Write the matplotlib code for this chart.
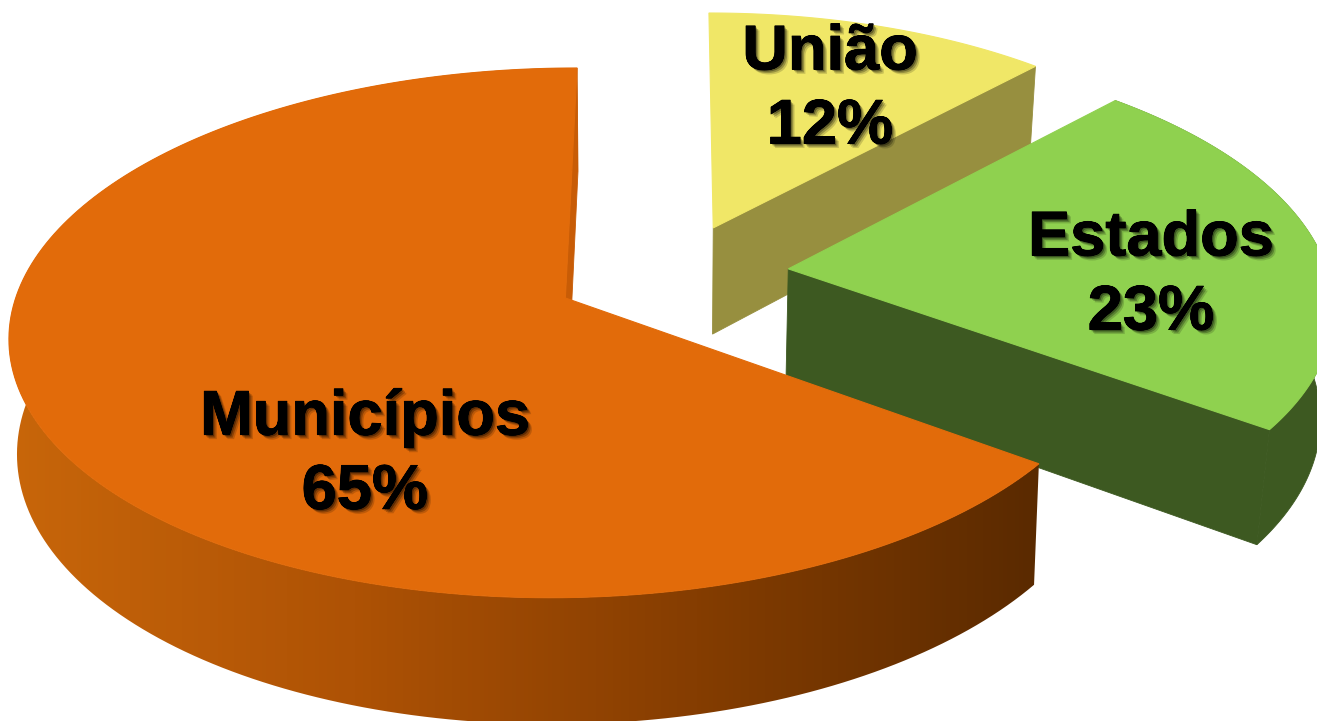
import numpy as np
import matplotlib
matplotlib.use('Agg')
import matplotlib.pyplot as plt
from matplotlib.patches import Polygon
from matplotlib.colors import LinearSegmentedColormap
import matplotlib.patheffects as pe

plt.rcParams['font.family'] = ['Liberation Sans', 'DejaVu Sans']

# dados
labels = ['União', 'Estados', 'Municípios']
values = [12, 23, 65]
explode = [0.2, 0.215, 0.2055]
top_colors = ['#F0E767', '#8FD14F', '#E26B0A']
wall_colors = ['#978F3F', '#3D5921', '#C85C06']
label_pos = [(830, 90), (1151, 276), (365, 455)]

# camera (pixels), ajustada por fatia
center_x = [675, 673, 666]
scale_x = [532, 540, 543]
drop = [110, 112, 114]
low_shrink = [0.02, 0.02, 0.012]
CY = 274
B = 254
K = 0.13


def project(x, y, i, low=False):
    w = 1 + K * y + (low_shrink[i] if low else 0)
    px = center_x[i] + scale_x[i] * x / w
    py = CY - (B * y - (drop[i] if low else 0)) / w
    return np.column_stack([px, py])


def rim(cx, cy, t0, t1, i, low=False):
    t = np.linspace(t0, t1, 200)
    return project(cx + np.sin(t), cy + np.cos(t), i, low)


fig = plt.figure(figsize=(13.17, 7.21), dpi=100)
ax = fig.add_axes([0, 0, 1, 1])

# angulos acumulados, sentido horario a partir do topo
ends = np.cumsum(values) / np.sum(values) * 2 * np.pi
starts = np.r_[0, ends[:-1]]
wall_cmap = LinearSegmentedColormap.from_list('parede', ['#C8660A', '#AE5205', '#853D01', '#5A2A00'])

for i in range(3):
    t0, t1 = starts[i], ends[i]
    mid = (t0 + t1) / 2
    cx, cy = explode[i] * np.sin(mid), explode[i] * np.cos(mid)
    apex_t = project(np.array([cx]), np.array([cy]), i)
    apex_b = project(np.array([cx]), np.array([cy]), i, True)
    top_rim = rim(cx, cy, t0, t1, i)
    low_rim = rim(cx, cy, t0, t1, i, True)
    outer = np.vstack([top_rim, low_rim[::-1]])

    if labels[i] == 'Estados':
        ax.add_patch(Polygon(outer, fc=wall_colors[i], ec=wall_colors[i], lw=0.6, zorder=i))
    elif labels[i] == 'Municípios':
        clip = Polygon(outer, fc='none', ec='none', zorder=i)
        ax.add_patch(clip)
        x0, x1 = outer[:, 0].min(), outer[:, 0].max()
        y0, y1 = outer[:, 1].min(), outer[:, 1].max()
        im = ax.imshow(np.linspace(0, 1, 256)[None, :], cmap=wall_cmap, aspect='auto',
                       extent=[x0, x1, y1, y0], zorder=i)
        im.set_clip_path(clip)

    # face do corte no fim da fatia, por cima da parede externa
    face = np.vstack([apex_t, top_rim[-1:], low_rim[-1:], apex_b])
    ax.add_patch(Polygon(face, fc=wall_colors[i], ec=wall_colors[i], lw=0.6, zorder=i + 0.2))

    top = np.vstack([apex_t, top_rim])
    ax.add_patch(Polygon(top, fc=top_colors[i], ec=top_colors[i], lw=0.8, zorder=i + 0.5))

ax.set_xlim(0, 1317)
ax.set_ylim(721, 0)
ax.axis('off')

# rotulos com sombra suave
shadow = [pe.withSimplePatchShadow(offset=(3.2, -3.2), shadow_rgbFace='#000000', alpha=0.16),
          pe.withSimplePatchShadow(offset=(2.2, -2.2), shadow_rgbFace='#000000', alpha=0.25),
          pe.withSimplePatchShadow(offset=(1.2, -1.2), shadow_rgbFace='#000000', alpha=0.35),
          pe.Stroke(linewidth=0.6, foreground='black'),
          pe.Normal()]
for i in range(3):
    pct = round(values[i] / sum(values) * 100)
    ax.text(label_pos[i][0], label_pos[i][1], f'{labels[i]}\n{pct}%', ha='center', va='center',
            fontsize=45.5, fontweight='bold', color='black', linespacing=1.33,
            path_effects=shadow, zorder=10)

fig.savefig('out.png', dpi=100)
